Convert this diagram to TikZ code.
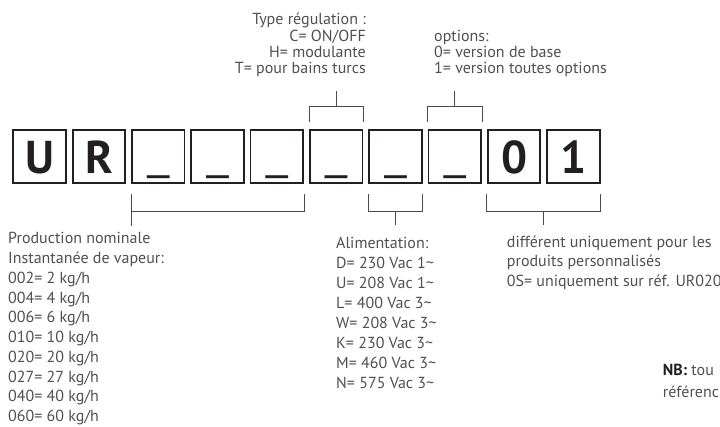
\documentclass[tikz,border=0pt]{standalone}
\usepackage{fontspec}
\setmainfont{PT Sans}
\usetikzlibrary{calc}
\definecolor{ink}{HTML}{231F20}
\definecolor{txt}{HTML}{505050}
\definecolor{rule}{HTML}{4A4A4A}
% flattened, slightly raised underscore for the blank cells
\newcommand{\blankmark}{\raisebox{1.8pt}{\scalebox{1.12}[0.6]{\_}}}

\begin{document}
\begin{tikzpicture}[x=1pt,y=-1pt,
  cell/.style={draw=ink, line width=1.8pt, minimum width=52.6pt, minimum height=53pt, inner sep=0pt},
  glyph/.style={anchor=base, inner sep=0pt, text=ink, font=\fontsize{46}{46}\selectfont\bfseries},
  note/.style={anchor=base west, inner sep=0pt, text=txt, font=\fontsize{16}{19}\selectfont},
  noteR/.style={note, anchor=base east},
  bracket/.style={draw=rule, line width=0.9pt}
]
\useasboundingbox (0,0) rectangle (720,427);
\clip (0,0) rectangle (720,427);

% the ten code cells and their characters
\foreach \c [count=\i] in {U,R,\blankmark,\blankmark,\blankmark,\blankmark,\blankmark,\blankmark,0,1}{
  \node[cell] (b\i) at ({39.65+59.3*(\i-1)},156.5) {};
  \node[glyph] (l\i) at ({39.65+59.3*(\i-1)},174) {\c};
}

% brackets under the cells
\draw[bracket] (b3.south west |- 0,194) -- (b3.south west |- 0,226);
\draw[bracket] (b3.south west |- 0,211) -| (b5.south east |- 0,194);
\draw[bracket] (b7.south west |- 0,194) |- (b7.south east |- 0,211) -- (b7.south east |- 0,194);
\draw[bracket] (b7.south |- 0,211) -- (b7.south |- 0,225);
\draw[bracket] (b9.south west |- 0,194) |- (b10.south east |- 0,211) -- (b10.south east |- 0,194);
\coordinate (m910) at ($(b9.south west)!0.5!(b10.south east)$);
\draw[bracket] (m910 |- 0,211) -- (m910 |- 0,225);

% brackets above the cells
\draw[bracket] (b6.north west |- 0,122) |- (b6.north east |- 0,106) -- (b6.north east |- 0,122);
\draw[bracket] (b6.north |- 0,106) -- (b6.north |- 0,91);
\draw[bracket] (b8.north west |- 0,122) |- (b8.north east |- 0,106) -- (b8.north east |- 0,122);
\draw[bracket] (b8.north |- 0,106) -- (b8.north |- 0,91);

% regulation type
\foreach \t [count=\i] in {{Type régulation :},{C= ON/OFF},{H= modulante},{T= pour bains turcs}}
  \node[noteR] (reg\i) at (366,{24.8+16.4*(\i-1)}) {\t};

% options
\foreach \t [count=\i] in {{options:},{0= version de base},{1= version toutes options}}
  \node[note] (opt\i) at (434,{41.2+16.4*(\i-1)}) {\t};

% nominal output
\foreach \t [count=\i] in {{Production nominale},{Instantanée de vapeur:},{002= 2 kg/h},{004= 4 kg/h},{006= 6 kg/h},{010= 10 kg/h},{020= 20 kg/h},{027= 27 kg/h},{040= 40 kg/h},{060= 60 kg/h}}
  \node[note] (prod\i) at (8,{244+19.75*(\i-1)}) {\t};

% power supply
\foreach \t [count=\i] in {{Alimentation:},{D= 230 Vac 1\textasciitilde},{U= 208 Vac 1\textasciitilde},{L= 400 Vac 3\textasciitilde},{W= 208 Vac 3\textasciitilde},{K= 230 Vac 3\textasciitilde},{M= 460 Vac 3\textasciitilde},{N= 575 Vac 3\textasciitilde}}
  \node[note] (ali\i) at (336,{248.3+20*(\i-1)}) {\t};

% custom products
\foreach \t [count=\i] in {{différent uniquement pour les},{produits personnalisés},{0S= uniquement sur réf. UR020}}
  \node[note] (cust\i) at (506.7,{247.3+19.7*(\i-1)}) {\t};

% note
\node[note] (nb1) at (662.7,375) {\textcolor{ink}{\bfseries NB:} tou};
\node[note] (nb2) at (662.7,398) {référenc};
\end{tikzpicture}
\end{document}
